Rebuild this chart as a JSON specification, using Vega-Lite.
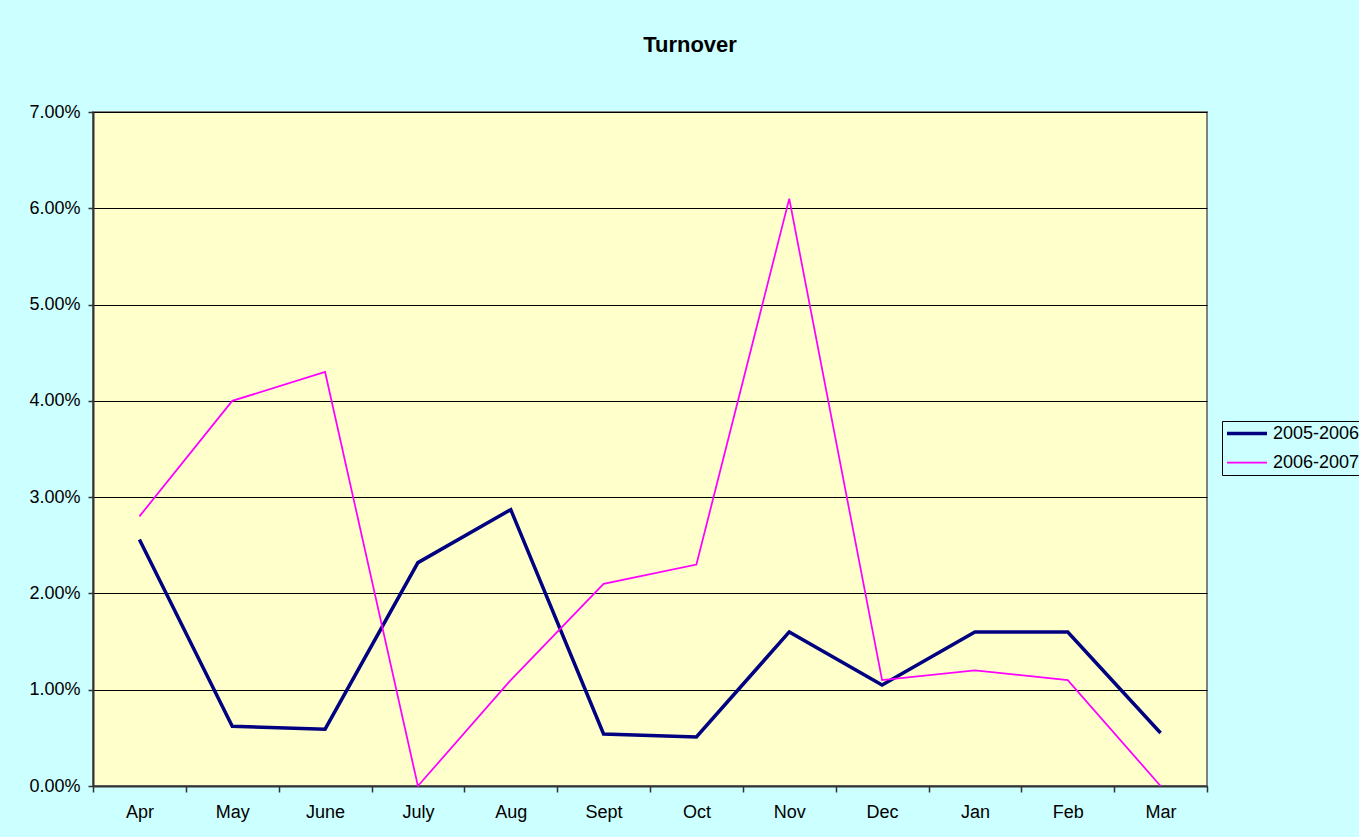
{
  "$schema": "https://vega.github.io/schema/vega-lite/v6.json",
  "autosize": {"type": "none"},
  "width": 1114,
  "height": 674,
  "padding": {"left": 93, "top": 112, "right": 152, "bottom": 51},
  "background": "#CCFFFF",
  "title": {
    "text": "Turnover",
    "font": "Liberation Sans",
    "fontSize": 22,
    "fontWeight": "bold",
    "color": "#000000",
    "anchor": "middle",
    "dx": 40,
    "offset": 46
  },
  "config": {
    "view": {"fill": "#FFFFCC", "stroke": "#808080", "strokeWidth": 2},
    "font": "Liberation Sans"
  },
  "data": {
    "values": [
      {"month": "Apr", "series": "2005-2006", "value": 0.0256},
      {"month": "May", "series": "2005-2006", "value": 0.0062},
      {"month": "June", "series": "2005-2006", "value": 0.0059},
      {"month": "July", "series": "2005-2006", "value": 0.0232},
      {"month": "Aug", "series": "2005-2006", "value": 0.0287},
      {"month": "Sept", "series": "2005-2006", "value": 0.0054},
      {"month": "Oct", "series": "2005-2006", "value": 0.0051},
      {"month": "Nov", "series": "2005-2006", "value": 0.0160},
      {"month": "Dec", "series": "2005-2006", "value": 0.0105},
      {"month": "Jan", "series": "2005-2006", "value": 0.0160},
      {"month": "Feb", "series": "2005-2006", "value": 0.0160},
      {"month": "Mar", "series": "2005-2006", "value": 0.0055},
      {"month": "Apr", "series": "2006-2007", "value": 0.0280},
      {"month": "May", "series": "2006-2007", "value": 0.0400},
      {"month": "June", "series": "2006-2007", "value": 0.0430},
      {"month": "July", "series": "2006-2007", "value": 0.0},
      {"month": "Aug", "series": "2006-2007", "value": 0.0110},
      {"month": "Sept", "series": "2006-2007", "value": 0.0210},
      {"month": "Oct", "series": "2006-2007", "value": 0.0230},
      {"month": "Nov", "series": "2006-2007", "value": 0.0610},
      {"month": "Dec", "series": "2006-2007", "value": 0.0110},
      {"month": "Jan", "series": "2006-2007", "value": 0.0120},
      {"month": "Feb", "series": "2006-2007", "value": 0.0110},
      {"month": "Mar", "series": "2006-2007", "value": 0.0}
    ]
  },
  "mark": {"type": "line", "strokeJoin": "miter", "clip": false},
  "encoding": {
    "x": {
      "field": "month",
      "type": "ordinal",
      "sort": ["Apr", "May", "June", "July", "Aug", "Sept", "Oct", "Nov", "Dec", "Jan", "Feb", "Mar"],
      "bandPosition": 0.5,
      "scale": {"type": "band", "paddingInner": 0, "paddingOuter": 0},
      "axis": {
        "title": null,
        "labelAngle": 0,
        "labelFont": "Liberation Sans",
        "labelFontSize": 18,
        "labelColor": "#000000",
        "labelPadding": 11,
        "tickBand": "extent",
        "tickSize": 6,
        "tickColor": "#333333",
        "tickWidth": 1.5,
        "domainColor": "#333333",
        "domainWidth": 2,
        "grid": false
      }
    },
    "y": {
      "field": "value",
      "type": "quantitative",
      "scale": {"domain": [0, 0.07], "nice": false, "zero": true},
      "axis": {
        "title": null,
        "format": ".2%",
        "values": [0, 0.01, 0.02, 0.03, 0.04, 0.05, 0.06, 0.07],
        "labelFont": "Liberation Sans",
        "labelFontSize": 18,
        "labelColor": "#000000",
        "labelPadding": 8,
        "tickSize": 5,
        "tickColor": "#333333",
        "tickWidth": 1.5,
        "domainColor": "#333333",
        "domainWidth": 2,
        "grid": true,
        "gridColor": "#000000",
        "gridWidth": 1.2,
        "gridOpacity": 1
      }
    },
    "color": {
      "field": "series",
      "type": "nominal",
      "scale": {"domain": ["2005-2006", "2006-2007"], "range": ["#000080", "#FF00FF"]},
      "legend": {
        "title": null,
        "orient": "none",
        "legendX": 1129,
        "legendY": 309,
        "symbolType": "stroke",
        "symbolSize": 1600,
        "clipHeight": 19,
        "labelFont": "Liberation Sans",
        "labelFontSize": 18,
        "labelColor": "#000000",
        "labelOffset": 4,
        "padding": 3,
        "rowPadding": 10,
        "strokeColor": "#000000"
      }
    },
    "strokeWidth": {
      "field": "series",
      "type": "nominal",
      "scale": {"domain": ["2005-2006", "2006-2007"], "range": [3.5, 1.75]},
      "legend": {
        "title": null,
        "orient": "none",
        "legendX": 1129,
        "legendY": 309,
        "symbolType": "stroke",
        "symbolSize": 1600,
        "clipHeight": 19,
        "labelFont": "Liberation Sans",
        "labelFontSize": 18,
        "labelColor": "#000000",
        "labelOffset": 4,
        "padding": 3,
        "rowPadding": 10,
        "strokeColor": "#000000"
      }
    }
  }
}
